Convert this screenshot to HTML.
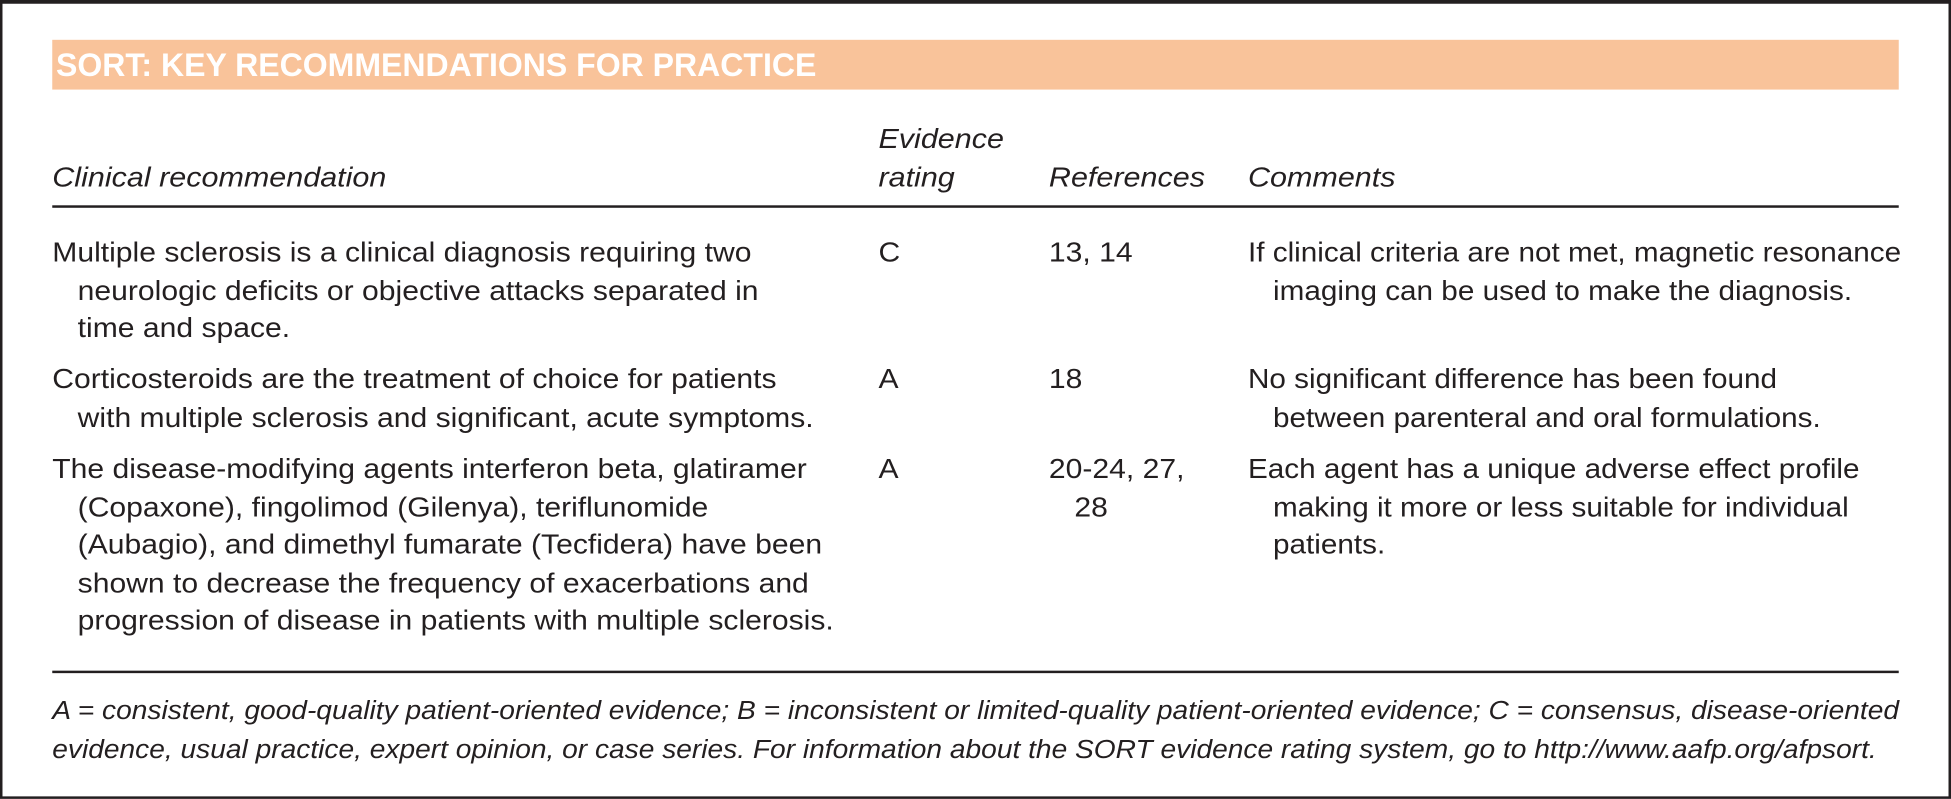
<!DOCTYPE html>
<html><head><meta charset="utf-8"><style>
html,body{margin:0;padding:0;background:#fff;}
#wrap{width:1951px;height:799px;overflow:hidden;position:relative;}
#s{position:absolute;left:0;top:0;width:1568px;height:642px;transform:scale(1.24426);transform-origin:0 0;font-family:"Liberation Sans",sans-serif;color:#231f20;}
.b{position:absolute;box-sizing:border-box;border:2px solid #231f20;border-top-width:3px;left:0;top:0;width:1568px;height:642px;}
.bar{position:absolute;left:42px;top:32px;width:1484px;height:40px;background:#f9c39a;}
.bar span{position:absolute;left:3px;top:5px;color:#fff;font-weight:bold;font-size:26px;white-space:nowrap;transform:scaleX(0.99);transform-origin:0 0;}
.t{position:absolute;white-space:nowrap;font-size:22.5px;line-height:30.6px;transform:scaleX(1.075);transform-origin:0 0;}
.t div{padding-left:19px;}
.h{font-style:italic;}
.hh{transform:scaleX(1.09);}
.ln{position:absolute;left:42px;width:1484px;height:1.5px;background:#231f20;}
.f{position:absolute;left:42px;white-space:nowrap;font-style:italic;font-size:20.5px;line-height:31px;transform:scaleX(1.103);transform-origin:0 0;}
</style></head><body><div id="wrap"><div id="s">
<div class="b"></div>
<div class="bar"><span>SORT: KEY RECOMMENDATIONS FOR PRACTICE</span></div>
<div class="t h hh" style="left:42px;top:128px">Clinical recommendation</div>
<div class="t h hh" style="left:706px;top:97px">Evidence<br>rating</div>
<div class="t h hh" style="left:843px;top:128px">References</div>
<div class="t h hh" style="left:1003px;top:128px">Comments</div>
<div class="ln" style="top:165px"></div>

<div class="t" style="left:42px;top:188px">Multiple sclerosis is a clinical diagnosis requiring two<div>neurologic deficits or objective attacks separated in</div><div>time and space.</div></div>
<div class="t" style="left:706px;top:188px">C</div>
<div class="t" style="left:843px;top:188px">13, 14</div>
<div class="t" style="left:1003px;top:188px;transform:scaleX(1.06)">If clinical criteria are not met, magnetic resonance<div>imaging can be used to make the diagnosis.</div></div>

<div class="t" style="left:42px;top:290px">Corticosteroids are the treatment of choice for patients<div>with multiple sclerosis and significant, acute symptoms.</div></div>
<div class="t" style="left:706px;top:290px">A</div>
<div class="t" style="left:843px;top:290px">18</div>
<div class="t" style="left:1003px;top:290px;transform:scaleX(1.06)">No significant difference has been found<div>between parenteral and oral formulations.</div></div>

<div class="t" style="left:42px;top:362px">The disease-modifying agents interferon beta, glatiramer<div>(Copaxone), fingolimod (Gilenya), teriflunomide</div><div>(Aubagio), and dimethyl fumarate (Tecfidera) have been</div><div>shown to decrease the frequency of exacerbations and</div><div>progression of disease in patients with multiple sclerosis.</div></div>
<div class="t" style="left:706px;top:362px">A</div>
<div class="t" style="left:843px;top:362px">20-24, 27,<div>28</div></div>
<div class="t" style="left:1003px;top:362px;transform:scaleX(1.06)">Each agent has a unique adverse effect profile<div>making it more or less suitable for individual</div><div>patients.</div></div>

<div class="ln" style="top:539px"></div>
<div class="f" style="top:556px">A = consistent, good-quality patient-oriented evidence; B = inconsistent or limited-quality patient-oriented evidence; C = consensus, disease-oriented<br>evidence, usual practice, expert opinion, or case series. For information about the SORT evidence rating system, go to http://www.aafp.org/afpsort.</div>
</div></div></body></html>
